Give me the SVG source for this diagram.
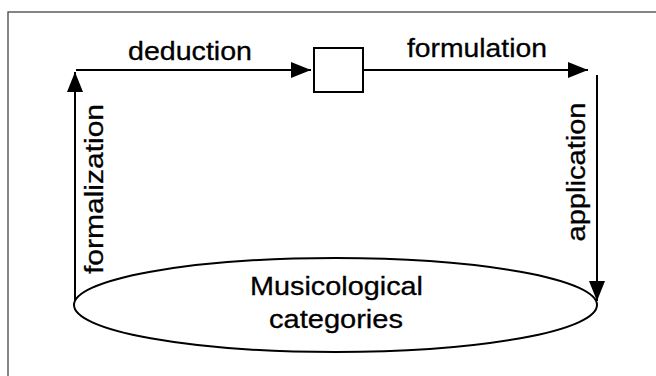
<svg xmlns="http://www.w3.org/2000/svg" width="656" height="376" viewBox="0 0 656 376">
  <style>
    .edge { stroke: #000; stroke-width: 2; fill: none; }
    .shape { stroke: #000; stroke-width: 2; fill: #fff; }
    .lbl { font-family: "Liberation Sans", Arial, sans-serif; font-size: 26px; fill: #000; stroke: #000; stroke-width: 0.3; }
  </style>
  <defs>
    <marker id="arr" markerUnits="userSpaceOnUse" markerWidth="21" markerHeight="17" refX="20" refY="8" orient="auto">
      <path d="M0,0 L20,8 L0,16 z" fill="#000"/>
    </marker>
  </defs>
  <rect x="0" y="0" width="656" height="376" fill="#fff"/>
  <rect x="8" y="12" width="660" height="380" fill="none" stroke="#444" stroke-width="1.3"/>

  <g id="connectors">
    <line class="edge" x1="75" y1="303" x2="75" y2="72" marker-end="url(#arr)"/>
    <line class="edge" x1="76" y1="70" x2="311" y2="70" marker-end="url(#arr)"/>
    <line class="edge" x1="363" y1="70" x2="588" y2="70" marker-end="url(#arr)"/>
    <line class="edge" x1="597" y1="75" x2="597" y2="301" marker-end="url(#arr)"/>
    <text class="lbl" x="128" y="60" textLength="124" lengthAdjust="spacingAndGlyphs">deduction</text>
    <text class="lbl" x="407" y="57" textLength="140" lengthAdjust="spacingAndGlyphs">formulation</text>
    <text class="lbl" transform="translate(103,189) rotate(-90)" text-anchor="middle" textLength="170" lengthAdjust="spacingAndGlyphs">formalization</text>
    <text class="lbl" transform="translate(585,172) rotate(-90)" text-anchor="middle" textLength="139" lengthAdjust="spacingAndGlyphs">application</text>
  </g>

  <g id="node-box">
    <rect class="shape" x="314" y="48" width="49" height="44"/>
  </g>

  <g id="node-categories">
    <ellipse class="shape" cx="335.5" cy="305" rx="261.5" ry="47"/>
    <text class="lbl" x="336.5" y="295" text-anchor="middle" textLength="173" lengthAdjust="spacingAndGlyphs">Musicological</text>
    <text class="lbl" x="336" y="328" text-anchor="middle" textLength="134" lengthAdjust="spacingAndGlyphs">categories</text>
  </g>
</svg>
